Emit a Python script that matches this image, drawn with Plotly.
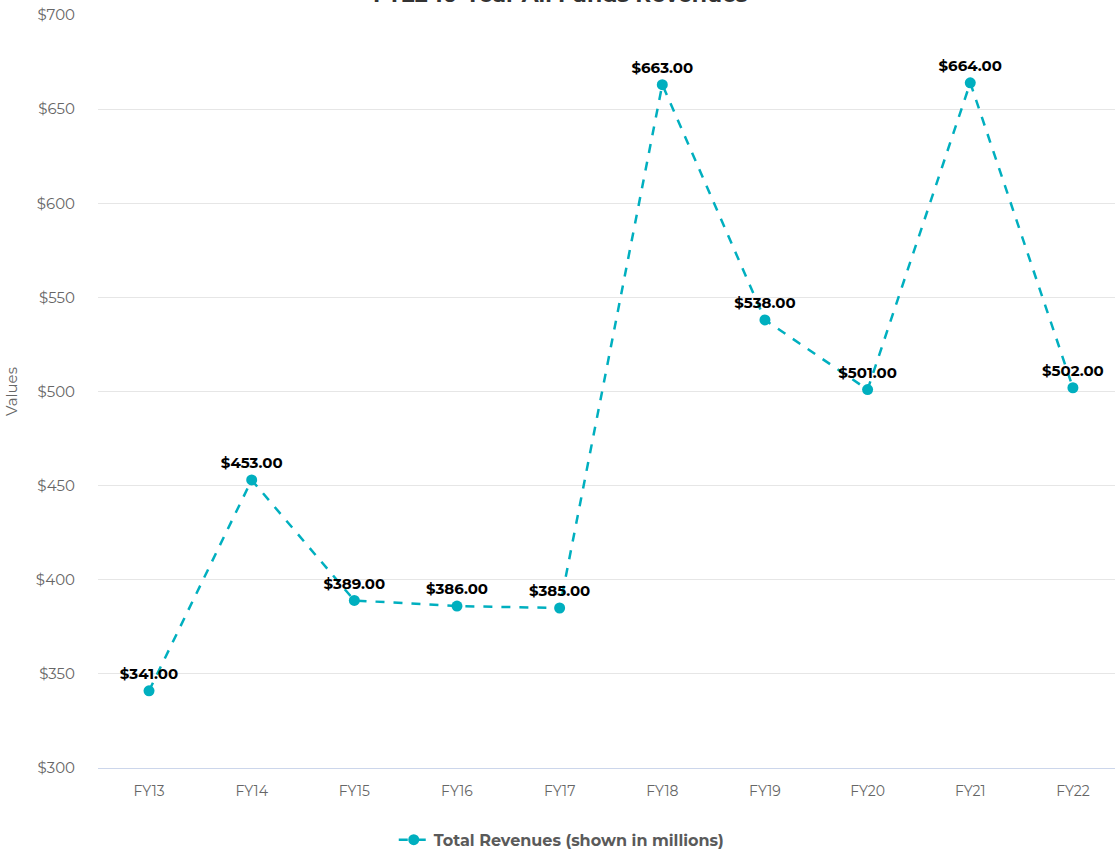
import plotly.graph_objects as go

years = ["FY13", "FY14", "FY15", "FY16", "FY17", "FY18", "FY19", "FY20", "FY21", "FY22"]
revenues = [341, 453, 389, 386, 385, 663, 538, 501, 664, 502]
series_name = "Total Revenues (shown in millions)"
title_text = "FY22 10-Year All Funds Revenues"
y_ticks = [300, 350, 400, 450, 500, 550, 600, 650, 700]

color = "#00AFBF"
font_family = "Montserrat, Inter, 'Open Sans', sans-serif"

fig = go.Figure()
fig.add_trace(go.Scatter(
    x=years, y=revenues, name=series_name,
    mode="lines+markers+text",
    line=dict(color=color, width=2.5, dash="dash"),
    marker=dict(color=color, size=11),
    text=[f"${v:,.2f}" for v in revenues],
    textposition="top center",
    textfont=dict(family=font_family, size=15, color="#000000", weight="bold"),
    cliponaxis=False,
))

fig.update_layout(
    width=1115, height=850,
    margin=dict(l=98, r=0, t=15, b=82),
    paper_bgcolor="white", plot_bgcolor="white",
    font=dict(family=font_family),
    showlegend=True,
    legend=dict(orientation="h", x=0.456, xanchor="center", yref="container", y=0.012,
                yanchor="middle", font=dict(size=16, color="#5a5a5a", weight="bold")),
    xaxis=dict(type="category", range=[-0.497, 9.41], showgrid=False, showline=True,
               linecolor="#ccd6eb", linewidth=1, automargin=False,
               tickfont=dict(size=14, color="#666666"), ticks="", ticklabelstandoff=10),
    yaxis=dict(range=[300, 700], tickvals=y_ticks, ticktext=[f"${v}" for v in y_ticks],
               showgrid=True, gridcolor="#e6e6e6", zeroline=False, automargin=False,
               tickfont=dict(size=15, color="#666666"), ticklabelstandoff=22,
               title=dict(text="Values", font=dict(size=15, color="#666666"), standoff=14)),
    annotations=[dict(text=title_text, xref="paper", yref="paper", x=0.455, y=1.0,
                      xanchor="center", yanchor="bottom", yshift=5, showarrow=False,
                      font=dict(size=22, color="#333333", weight="bold"))],
)

fig.write_html("out.html")
